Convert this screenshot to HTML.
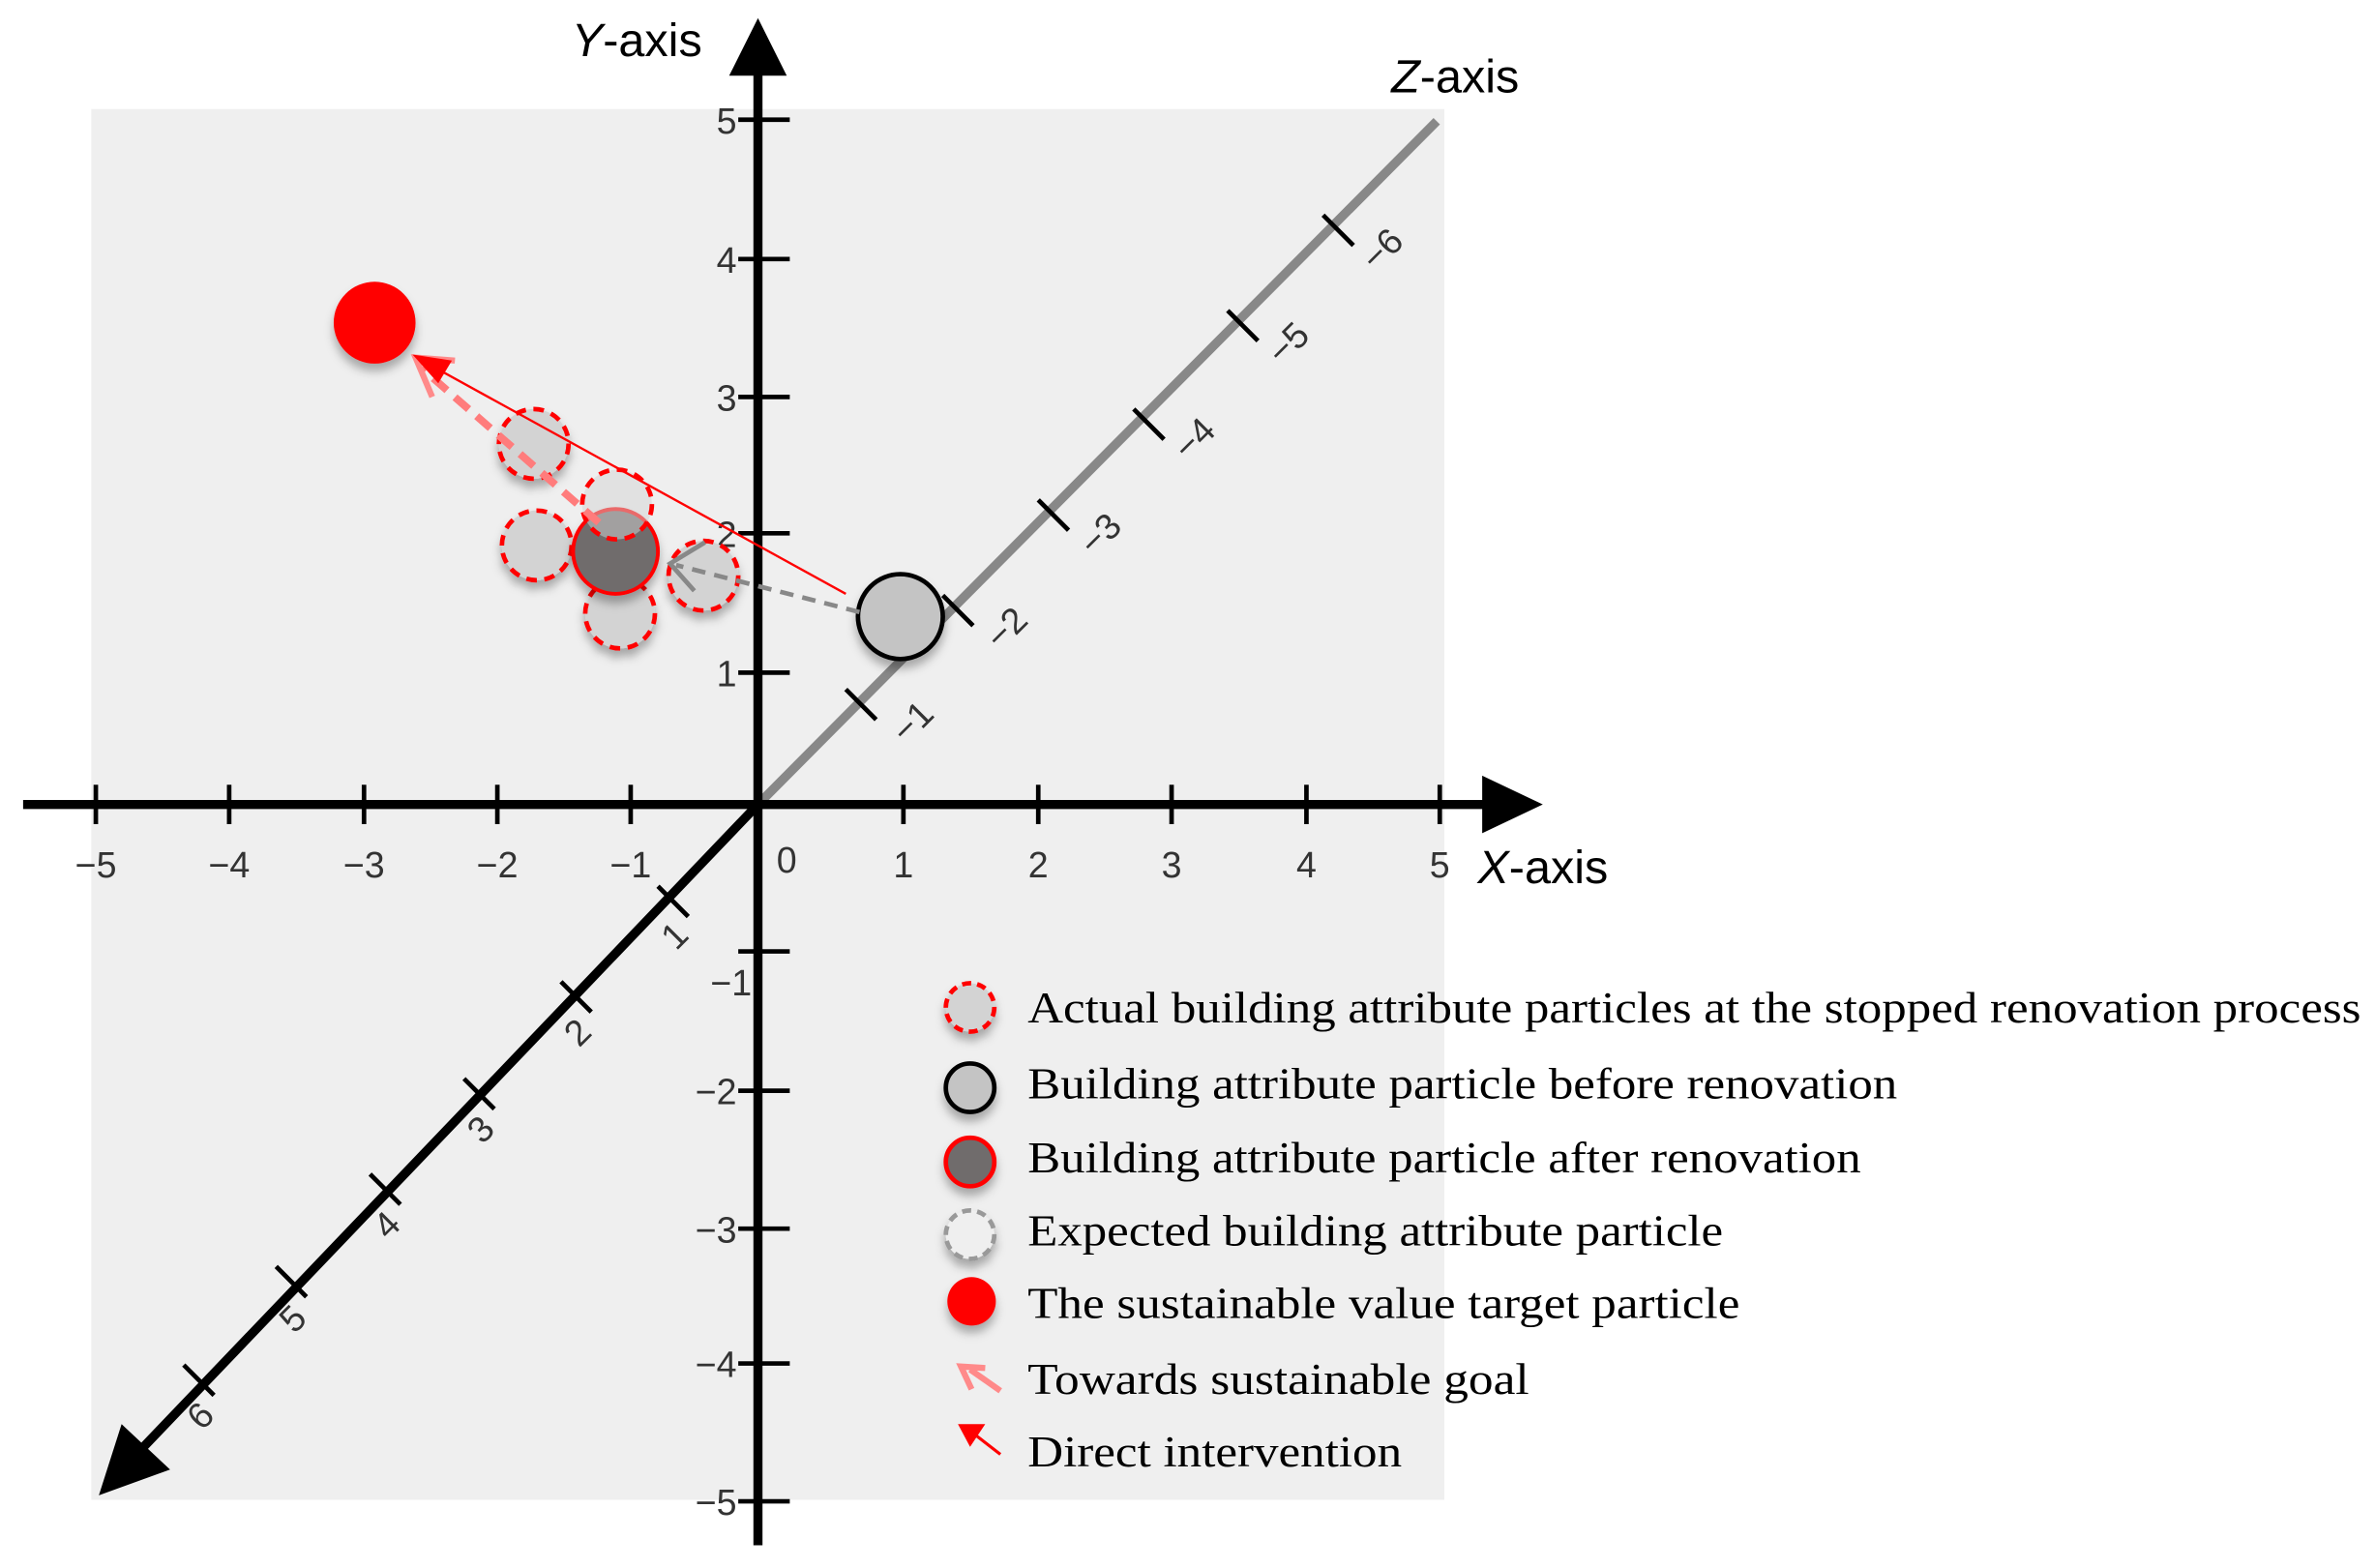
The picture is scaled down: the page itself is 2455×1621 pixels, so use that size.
<!DOCTYPE html>
<html><head><meta charset="utf-8"><style>
html,body{margin:0;padding:0;background:#fff;}
svg{display:block;}
.n{font-family:"Liberation Sans",sans-serif;font-size:24px;fill:#333;}
.lg{font-family:"Liberation Serif",serif;font-size:29px;fill:#000;}
.ax{font-family:"Liberation Sans",sans-serif;font-size:31px;fill:#000;}
</style></head><body>
<svg width="2455" height="1621" viewBox="0 0 1567 1035" xmlns="http://www.w3.org/2000/svg">
<defs>
<filter id="sh" x="-50%" y="-50%" width="200%" height="200%"><feDropShadow dx="0" dy="5" stdDeviation="3" flood-color="#000" flood-opacity="0.3"/></filter>
</defs>
<rect x="60" y="72" width="893" height="918" fill="#efefef"/>
<line x1="500" y1="531" x2="948" y2="80" stroke="#888" stroke-width="6"/>
<g stroke="#000" stroke-width="3">
<line x1="558" y1="455" x2="578" y2="475"/>
<line x1="622" y1="393" x2="642" y2="413"/>
<line x1="685" y1="330" x2="705" y2="350"/>
<line x1="748" y1="270" x2="768" y2="290"/>
<line x1="810" y1="205" x2="830" y2="225"/>
<line x1="873" y1="142" x2="893" y2="162"/>
</g>
<g class="n" font-size="22">
<text transform="translate(598,492) rotate(-45)">−1</text>
<text transform="translate(660,430) rotate(-45)">−2</text>
<text transform="translate(722,368) rotate(-45)">−3</text>
<text transform="translate(784,305) rotate(-45)">−4</text>
<text transform="translate(846,242) rotate(-45)">−5</text>
<text transform="translate(908,180) rotate(-45)">−6</text>
</g>
<line x1="500" y1="531" x2="85" y2="965" stroke="#000" stroke-width="6"/>
<polygon points="65,987 80,940 112,970" fill="#000"/>
<g stroke="#000" stroke-width="3">
<line x1="434" y1="585" x2="454" y2="605"/>
<line x1="370" y1="648" x2="390" y2="668"/>
<line x1="306" y1="712" x2="326" y2="732"/>
<line x1="244" y1="775" x2="264" y2="795"/>
<line x1="182" y1="836" x2="202" y2="856"/>
<line x1="121" y1="901" x2="141" y2="921"/>
</g>
<g class="n" font-size="22">
<text transform="translate(446,628) rotate(-45)">1</text>
<text transform="translate(382,692) rotate(-45)">2</text>
<text transform="translate(318,756) rotate(-45)">3</text>
<text transform="translate(256,819) rotate(-45)">4</text>
<text transform="translate(194,881) rotate(-45)">5</text>
<text transform="translate(133,945) rotate(-45)">6</text>
</g>
<line x1="15" y1="531" x2="985" y2="531" stroke="#000" stroke-width="6"/>
<polygon points="1018,531 978,512 978,550" fill="#000"/>
<g stroke="#000" stroke-width="3">
<line x1="63" y1="518" x2="63" y2="544"/><line x1="151" y1="518" x2="151" y2="544"/>
<line x1="240" y1="518" x2="240" y2="544"/><line x1="328" y1="518" x2="328" y2="544"/>
<line x1="416" y1="518" x2="416" y2="544"/><line x1="596" y1="518" x2="596" y2="544"/>
<line x1="685" y1="518" x2="685" y2="544"/><line x1="773" y1="518" x2="773" y2="544"/>
<line x1="862" y1="518" x2="862" y2="544"/><line x1="950" y1="518" x2="950" y2="544"/>
</g>
<g class="n" text-anchor="middle">
<text x="63" y="579">−5</text><text x="151" y="579">−4</text><text x="240" y="579">−3</text>
<text x="328" y="579">−2</text><text x="416" y="579">−1</text><text x="519" y="576">0</text>
<text x="596" y="579">1</text><text x="685" y="579">2</text><text x="773" y="579">3</text>
<text x="862" y="579">4</text><text x="950" y="579">5</text>
</g>
<line x1="500" y1="1020" x2="500" y2="45" stroke="#000" stroke-width="6"/>
<polygon points="500,12 481,50 519,50" fill="#000"/>
<g stroke="#000" stroke-width="3">
<line x1="487" y1="79" x2="521" y2="79"/><line x1="487" y1="171" x2="521" y2="171"/>
<line x1="487" y1="262" x2="521" y2="262"/><line x1="487" y1="352" x2="521" y2="352"/>
<line x1="487" y1="444" x2="521" y2="444"/><line x1="487" y1="628" x2="521" y2="628"/>
<line x1="487" y1="720" x2="521" y2="720"/><line x1="487" y1="811" x2="521" y2="811"/>
<line x1="487" y1="900" x2="521" y2="900"/><line x1="487" y1="991" x2="521" y2="991"/>
</g>
<g class="n" text-anchor="end">
<text x="486" y="88">5</text><text x="486" y="180">4</text><text x="486" y="271">3</text>
<text x="486" y="361">2</text><text x="486" y="453">1</text>
<text x="496" y="657">−1</text><text x="486" y="729">−2</text><text x="486" y="820">−3</text>
<text x="486" y="909">−4</text><text x="486" y="1000">−5</text>
</g>
<text class="ax" x="377" y="37"><tspan font-style="italic">Y</tspan>-axis</text>
<text class="ax" x="918" y="61"><tspan font-style="italic">Z</tspan>-axis</text>
<text class="ax" x="975" y="583"><tspan font-style="italic">X</tspan>-axis</text>
<g stroke="#f00" stroke-width="3" stroke-dasharray="7,5" fill="#d3d3d3" filter="url(#sh)">
<circle cx="352" cy="293" r="23"/>
<circle cx="354" cy="360" r="23"/>
<circle cx="464" cy="380" r="23"/>
<circle cx="409" cy="405" r="23"/>
</g>
<circle cx="406" cy="364" r="28" fill="#706c6c" stroke="#f00" stroke-width="2.5" filter="url(#sh)"/>
<circle cx="407" cy="333" r="23" fill="#d3d3d3" fill-opacity="0.5" stroke="#f00" stroke-width="3" stroke-dasharray="7,5"/>
<circle cx="594" cy="407" r="28" fill="#c4c4c4" stroke="#000" stroke-width="3" filter="url(#sh)"/>
<circle cx="247" cy="213" r="27" fill="#f00" filter="url(#sh)"/>
<line x1="395" y1="345" x2="278" y2="243" stroke="#ff7c7c" stroke-width="5" stroke-dasharray="12,7"/>
<polyline points="300,238 274,236 285,262" fill="none" stroke="#ff8a8a" stroke-width="4"/>
<line x1="567" y1="404" x2="446" y2="373" stroke="#888" stroke-width="3" stroke-dasharray="9,6"/>
<polyline points="465,358 442,372 458,390" fill="none" stroke="#888" stroke-width="3"/>
<line x1="558" y1="392" x2="282" y2="240" stroke="#f00" stroke-width="1.5"/>
<polygon points="272,234 298,238 289,253" fill="#f00"/>
<g filter="url(#sh)">
<circle cx="640" cy="665" r="16" fill="#d3d3d3" stroke="#f00" stroke-width="3" stroke-dasharray="6,4"/>
<circle cx="640" cy="718" r="16" fill="#c4c4c4" stroke="#000" stroke-width="3"/>
<circle cx="640" cy="767" r="16" fill="#706c6c" stroke="#f00" stroke-width="3"/>
<circle cx="640" cy="815" r="16" fill="#efefef" stroke="#999" stroke-width="3" stroke-dasharray="6,4"/>
<circle cx="641" cy="859" r="16" fill="#f00"/>
</g>
<line x1="660" y1="918" x2="640" y2="904" stroke="#ff8a8a" stroke-width="4"/>
<polyline points="650,903 634,902 641,917" fill="none" stroke="#ff8a8a" stroke-width="4"/>
<line x1="660" y1="960" x2="642" y2="946" stroke="#f00" stroke-width="2"/>
<polygon points="632,940 650,940 640,955" fill="#f00"/>
<g class="lg">
<text x="678" y="675" textLength="880" lengthAdjust="spacingAndGlyphs">Actual building attribute particles at the stopped renovation process</text>
<text x="678" y="725" textLength="574" lengthAdjust="spacingAndGlyphs">Building attribute particle before renovation</text>
<text x="678" y="774" textLength="550" lengthAdjust="spacingAndGlyphs">Building attribute particle after renovation</text>
<text x="678" y="822" textLength="459" lengthAdjust="spacingAndGlyphs">Expected building attribute particle</text>
<text x="678" y="870" textLength="470" lengthAdjust="spacingAndGlyphs">The sustainable value target particle</text>
<text x="678" y="920" textLength="331" lengthAdjust="spacingAndGlyphs">Towards sustainable goal</text>
<text x="678" y="968" textLength="247" lengthAdjust="spacingAndGlyphs">Direct intervention</text>
</g>
</svg>
</body></html>
